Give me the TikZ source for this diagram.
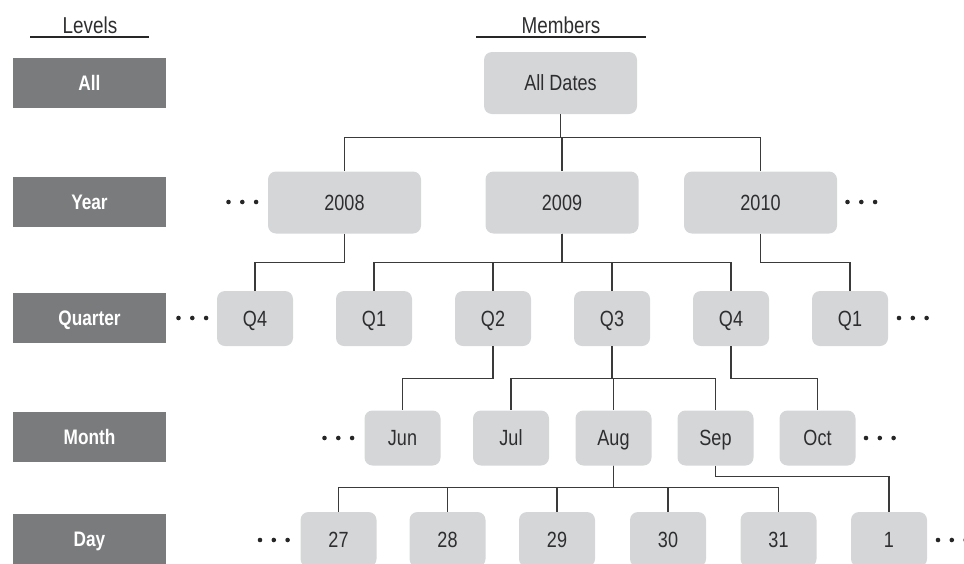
\documentclass[tikz,border=0pt]{standalone}
\usepackage{fontspec}
\setmainfont{Liberation Sans}[FakeStretch=0.82]
\usetikzlibrary{calc}

\definecolor{levelgray}{HTML}{7A7B7D}
\definecolor{membergray}{HTML}{D5D6D8}
\definecolor{inkgray}{HTML}{2E2E30}
\definecolor{linegray}{HTML}{3A3A3A}

\tikzset{
  level/.style={fill=levelgray, inner sep=0pt, minimum width=153pt, minimum height=50pt,
    text=white, font=\bfseries\fontsize{21}{24}\selectfont, text height=15pt, text depth=0pt},
  member/.style={fill=membergray, rounded corners=8pt, inner sep=0pt,
    minimum width=76pt, minimum height=55pt, text=inkgray,
    font=\fontsize{22}{26}\selectfont, text height=15.5pt, text depth=0pt},
  widemember/.style={member, minimum width=153pt, minimum height=62pt},
  heading/.style={inner sep=0pt, text=inkgray, font=\fontsize{23}{27}\selectfont,
    text height=16pt, text depth=0pt},
  headrule/.style={draw=black!85, line width=2pt},
  link/.style={draw=linegray, line width=1.3pt},
  dotfill/.style={fill=black!85}
}

% three small dots marking elided members, starting at x = #1, row y = #2
\newcommand\moredots[2]{%
  \foreach \k in {0,1,2} \fill[dotfill] (#1+\k*13.8,#2) circle (2.3pt);}

\begin{document}
\begin{tikzpicture}[x=1pt,y=-1pt]
  \useasboundingbox (0,0) rectangle (964,563);

  % column headings
  \node[heading] (hlev) at (90,25.5) {Levels};
  \draw[headrule] (30,37) -- (149,37);
  \node[heading] (hmem) at (561,25.5) {Members};
  \draw[headrule] (476,37) -- (646,37);

  % level labels
  \node[level] (lall)  at (89.5,83)  {All};
  \node[level] (lyear) at (89.5,202) {Year};
  \node[level] (lqtr)  at (89.5,318) {Quarter};
  \node[level] (lmon)  at (89.5,437) {Month};
  \node[level] (lday)  at (89.5,539) {Day};

  % members: all and years
  \node[widemember] (alld) at (560.5,83)  {All Dates};
  \node[widemember] (y08)  at (344.5,202.5) {2008};
  \node[widemember] (y09)  at (562,202.5)   {2009};
  \node[widemember] (y10)  at (760.5,202.5) {2010};

  % quarters
  \node[member] (q084) at (255,318.5) {Q4};
  \node[member] (q091) at (374,318.5) {Q1};
  \node[member] (q092) at (493,318.5) {Q2};
  \node[member] (q093) at (612,318.5) {Q3};
  \node[member] (q094) at (731,318.5) {Q4};
  \node[member] (q101) at (850,318.5) {Q1};

  % months
  \node[member] (mjun) at (402.5,438) {Jun};
  \node[member] (mjul) at (511,438)   {Jul};
  \node[member] (maug) at (613.5,438) {Aug};
  \node[member] (msep) at (715.5,438) {Sep};
  \node[member] (moct) at (817.5,438) {Oct};

  % days
  \node[member] (d27) at (338.5,539.5) {27};
  \node[member] (d28) at (447.5,539.5) {28};
  \node[member] (d29) at (557,539.5)   {29};
  \node[member] (d30) at (668,539.5)   {30};
  \node[member] (d31) at (778.5,539.5) {31};
  \node[member] (d01) at (889,539.5)   {1};

  % parent-child links
  \foreach \c in {y08,y09,y10}
    \draw[link] (alld.south) -- ++(0,23) -| (\c.north);
  \draw[link] (y08.south) -- ++(0,29) -| (q084.north);
  \foreach \c in {q091,q092,q093,q094}
    \draw[link] (y09.south) -- ++(0,29) -| (\c.north);
  \draw[link] (y10.south) -- ++(0,29) -| (q101.north);
  \draw[link] (q092.south) -- ++(0,32) -| (mjun.north);
  \foreach \c in {mjul,maug,msep}
    \draw[link] (q093.south) -- ++(0,32) -| (\c.north);
  \draw[link] (q094.south) -- ++(0,32) -| (moct.north);
  \foreach \c in {d27,d28,d29,d30,d31}
    \draw[link] (maug.south) -- ++(0,22) -| (\c.north);
  \draw[link] (msep.south) -- ++(0,11) -| (d01.north);

  % elided members
  \moredots{228.5}{202}
  \moredots{847.5}{202}
  \moredots{178.5}{318}
  \moredots{899}{318}
  \moredots{324.5}{438}
  \moredots{866}{438}
  \moredots{260}{540}
  \moredots{938}{540}
\end{tikzpicture}
\end{document}
